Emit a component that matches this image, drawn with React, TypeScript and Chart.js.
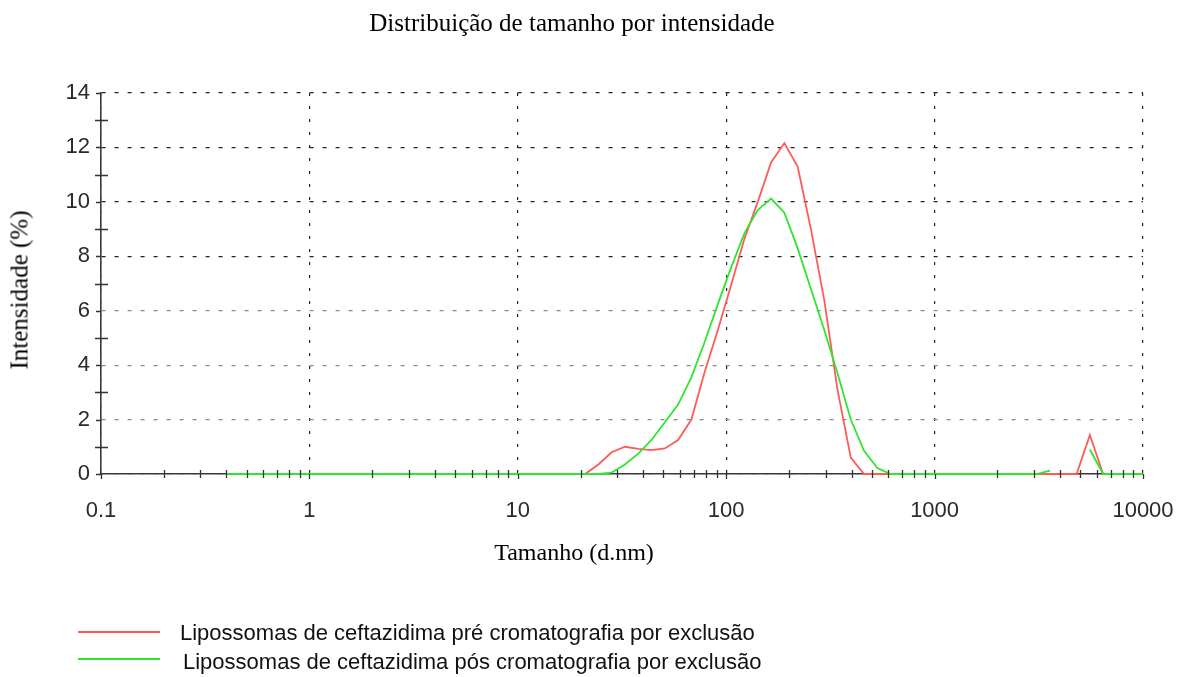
import React, { useEffect, useRef } from "react";
import { Chart, registerables } from "chart.js";

Chart.register(...registerables);

// Size classes (d.nm) of the measurement
const sizes: number[] = [
  0.4, 0.4632, 0.5365, 0.6213, 0.7195, 0.8332, 0.9649, 1.117, 1.294, 1.499,
  1.736, 2.01, 2.328, 2.696, 3.122, 3.615, 4.187, 4.849, 5.615, 6.503,
  7.531, 8.721, 10.1, 11.7, 13.54, 15.69, 18.17, 21.04, 24.36, 28.21,
  32.67, 37.84, 43.82, 50.75, 58.77, 68.06, 78.82, 91.28, 105.7, 122.4,
  141.8, 164.2, 190.1, 220.2, 255.0, 295.3, 342.0, 396.1, 458.7, 531.2,
  615.1, 712.4, 825.0, 955.4, 1106, 1281, 1484, 1718, 1990, 2305,
  2669, 3091, 3580, 4145, 4801, 5560, 6439, 7456, 8635, 10000,
];

// Intensity (%) – pre chromatography (red)
const preValues: (number | null)[] = [
  0, 0, 0, 0, 0, 0, 0, 0, 0, 0,
  0, 0, 0, 0, 0, 0, 0, 0, 0, 0,
  0, 0, 0, 0, 0, 0, 0, 0, 0.35, 0.8,
  1.0, 0.92, 0.88, 0.94, 1.25, 2.0, 3.75, 5.3, 6.95, 8.65,
  10.0, 11.45, 12.16, 11.3, 9.0, 6.4, 3.1, 0.6, 0, 0,
  0, 0, 0, 0, 0, 0, 0, 0, 0, 0,
  0, 0, 0, 0, 0, 1.43, 0, 0, 0, 0,
];

// Intensity (%) – post chromatography (green)
const postValues: (number | null)[] = [
  0, 0, 0, 0, 0, 0, 0, 0, 0, 0,
  0, 0, 0, 0, 0, 0, 0, 0, 0, 0,
  0, 0, 0, 0, 0, 0, 0, 0, 0, 0.05,
  0.35, 0.75, 1.25, 1.9, 2.55, 3.55, 4.85, 6.25, 7.6, 8.85,
  9.7, 10.12, 9.6, 8.3, 6.8, 5.3, 3.7, 2.0, 0.85, 0.22,
  0, 0, 0, 0, 0, 0, 0, 0, 0, 0,
  0, 0, 0.12, null, null, 0.9, 0, 0, 0, 0,
];

const xDecades: number[] = [0.1, 1, 10, 100, 1000, 10000];
const xTickLabels: string[] = ["0.1", "1", "10", "100", "1000", "10000"];
const yTicks: number[] = [0, 2, 4, 6, 8, 10, 12, 14];

const titleText = "Distribuição de tamanho por intensidade";
const xTitle = "Tamanho (d.nm)";
const yTitle = "Intensidade (%)";
const preLabel = "Lipossomas de ceftazidima pré cromatografia por exclusão";
const postLabel = "Lipossomas de ceftazidima pós cromatografia por exclusão";

const RED = "#ff5a5a";
const GREEN = "#2ee62e";

const SERIF = '"Liberation Serif", "Times New Roman", serif';
const SANS = '"Liberation Sans", Arial, sans-serif';

const minorTicks = {
  id: "minorTicks",
  afterDraw(chart: any) {
    const { ctx } = chart;
    const xs = chart.scales.x;
    const ys = chart.scales.y;
    const y0 = ys.getPixelForValue(0);
    const x0 = xs.getPixelForValue(xDecades[0]);
    ctx.save();
    ctx.strokeStyle = "#333";
    ctx.lineWidth = 1.3;
    ctx.beginPath();
    for (let d = 0; d < xDecades.length - 1; d++) {
      for (let k = 2; k <= 9; k++) {
        const px = Math.round(xs.getPixelForValue(xDecades[d] * k)) + 0.5;
        ctx.moveTo(px, y0 - 4);
        ctx.lineTo(px, y0 + 4);
      }
    }
    for (const d of xDecades) {
      const px = Math.round(xs.getPixelForValue(d)) + 0.5;
      ctx.moveTo(px, y0);
      ctx.lineTo(px, y0 + 5);
    }
    for (let v = 0; v <= 14; v++) {
      const py = Math.round(ys.getPixelForValue(v)) + 0.5;
      if (v % 2 === 1) {
        ctx.moveTo(x0 - 6, py);
        ctx.lineTo(x0 + 7, py);
      } else {
        ctx.moveTo(x0 - 5, py);
        ctx.lineTo(x0, py);
      }
    }
    ctx.stroke();
    ctx.restore();
  },
};

export default function App() {
  const ref = useRef<HTMLCanvasElement | null>(null);

  useEffect(() => {
    if (!ref.current) return;
    const chart = new Chart(ref.current, {
      type: "line",
      data: {
        datasets: [
          {
            label: postLabel,
            data: sizes.map((x, i) => ({ x, y: postValues[i] })) as any,
            borderColor: GREEN,
            borderWidth: 1.8,
            pointRadius: 0,
            tension: 0,
            spanGaps: false,
            clip: 6,
            order: 0,
          },
          {
            label: preLabel,
            data: sizes.map((x, i) => ({ x, y: preValues[i] })) as any,
            borderColor: RED,
            borderWidth: 1.8,
            pointRadius: 0,
            tension: 0,
            spanGaps: false,
            clip: 6,
            order: 1,
          },
        ],
      },
      options: {
        animation: false,
        responsive: false,
        events: [],
        layout: { padding: { top: 93, right: 46, left: 0, bottom: 0 } },
        plugins: {
          legend: { display: false },
          tooltip: { enabled: false },
          title: { display: false },
        },
        scales: {
          x: {
            type: "logarithmic",
            min: 0.1,
            max: 10000,
            afterBuildTicks: (s: any) => {
              s.ticks = xDecades.map((v) => ({ value: v }));
            },
            afterFit: (s: any) => {
              s.height = 203;
              s.paddingLeft = 0;
              s.paddingRight = 0;
            },
            ticks: {
              autoSkip: false,
              maxRotation: 0,
              minRotation: 0,
              padding: 24,
              color: "#2a2a2a",
              font: { family: SANS, size: 22 },
              callback: (v: any) => {
                const i = xDecades.findIndex((d) => Math.abs(d - Number(v)) < 1e-9 * Math.max(1, d));
                return i >= 0 ? xTickLabels[i] : "";
              },
            },
            grid: { drawTicks: false, color: "#222", lineWidth: 1.2 },
            border: { display: true, color: "#3a3a3a", width: 1.6, dash: [3, 10] },
          },
          y: {
            type: "linear",
            min: 0,
            max: 14,
            afterBuildTicks: (s: any) => {
              s.ticks = yTicks.map((v) => ({ value: v }));
            },
            afterFit: (s: any) => {
              s.width = 101;
              s.paddingTop = 0;
              s.paddingBottom = 0;
            },
            ticks: {
              padding: 11,
              color: "#2a2a2a",
              font: { family: SANS, size: 22 },
              callback: (v: any) => String(v),
            },
            grid: {
              drawTicks: false,
              lineWidth: 1.2,
              color: (c: any) => (c.tick && c.tick.value <= 6 ? "#8a8a8a" : "#222"),
            },
            border: { display: true, color: "#3a3a3a", width: 1.6, dash: [4, 9] },
          },
        },
      },
      plugins: [minorTicks],
    });
    return () => chart.destroy();
  }, []);

  const textBase: React.CSSProperties = {
    position: "absolute",
    whiteSpace: "nowrap",
    lineHeight: 1,
    color: "#000",
  };

  return (
    <div
      style={{
        position: "fixed",
        left: 0,
        top: 0,
        width: 1189,
        height: 677,
        background: "#fff",
        overflow: "hidden",
      }}
    >
      <canvas ref={ref} width={1189} height={677} style={{ position: "absolute", left: 0, top: 0 }} />
      <div
        style={{
          ...textBase,
          left: 572,
          top: 22,
          transform: "translate(-50%, -50%)",
          fontFamily: SERIF,
          fontSize: 25,
        }}
      >
        {titleText}
      </div>
      <div
        style={{
          ...textBase,
          left: 574,
          top: 552,
          transform: "translate(-50%, -50%)",
          fontFamily: SERIF,
          fontSize: 24,
        }}
      >
        {xTitle}
      </div>
      <div
        style={{
          ...textBase,
          left: 19,
          top: 290,
          transform: "translate(-50%, -50%) rotate(-90deg)",
          fontFamily: SERIF,
          fontSize: 25,
        }}
      >
        {yTitle}
      </div>
      <div style={{ position: "absolute", left: 78, top: 631, width: 82, height: 2, background: RED }} />
      <div
        style={{
          ...textBase,
          left: 180,
          top: 633,
          transform: "translateY(-50%)",
          fontFamily: SANS,
          fontSize: 22,
          color: "#111",
        }}
      >
        {preLabel}
      </div>
      <div style={{ position: "absolute", left: 78, top: 658, width: 82, height: 2, background: GREEN }} />
      <div
        style={{
          ...textBase,
          left: 183,
          top: 662,
          transform: "translateY(-50%)",
          fontFamily: SANS,
          fontSize: 22,
          color: "#111",
        }}
      >
        {postLabel}
      </div>
    </div>
  );
}
